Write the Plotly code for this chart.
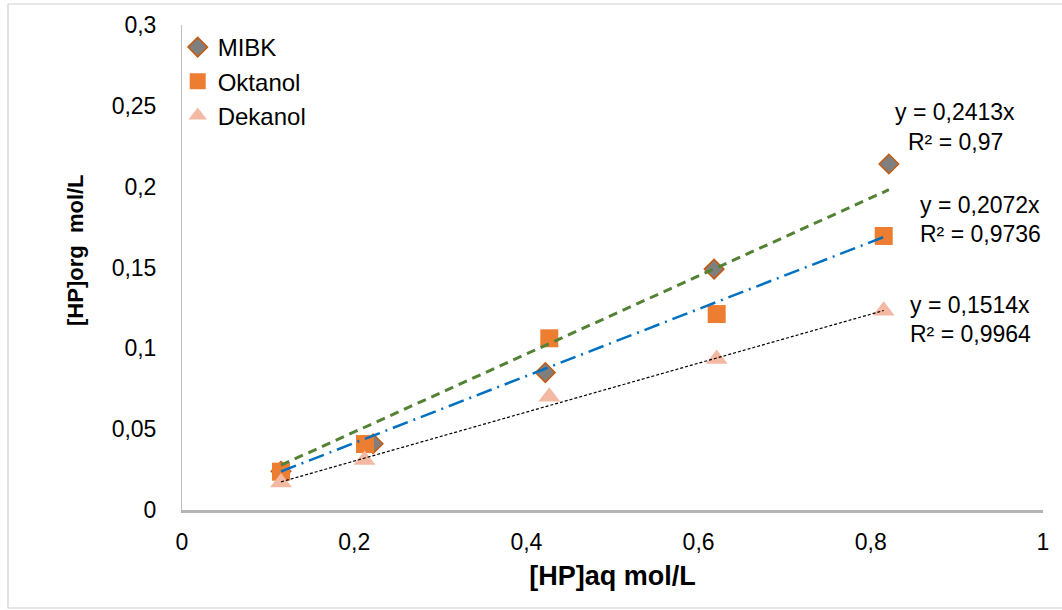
import plotly.graph_objects as go

# Measured distribution data: [HP] in aqueous vs organic phase (mol/L)
mibk_x = [0.115, 0.222, 0.422, 0.618, 0.821]
mibk_y = [0.024, 0.041, 0.085, 0.149, 0.214]

oktanol_x = [0.115, 0.2125, 0.4266, 0.621, 0.815]
oktanol_y = [0.0237, 0.0408, 0.1062, 0.1212, 0.1695]

dekanol_x = [0.115, 0.212, 0.4266, 0.621, 0.815]
dekanol_y = [0.017, 0.031, 0.0701, 0.0934, 0.1233]

# Linear fits through the origin
slopes = {"MIBK": 0.2413, "Oktanol": 0.2072, "Dekanol": 0.1514}
r2 = {"MIBK": "0,97", "Oktanol": "0,9736", "Dekanol": "0,9964"}

x_ticks = [0, 0.2, 0.4, 0.6, 0.8, 1]
x_tick_text = ["0", "0,2", "0,4", "0,6", "0,8", "1"]
y_ticks = [0, 0.05, 0.1, 0.15, 0.2, 0.25, 0.3]
y_tick_text = ["0", "0,05", "0,1", "0,15", "0,2", "0,25", "0,3"]

FONT = "Liberation Sans, Arial, sans-serif"
FS = 23

fig = go.Figure()

series = {
    "MIBK": (mibk_x, mibk_y),
    "Oktanol": (oktanol_x, oktanol_y),
    "Dekanol": (dekanol_x, dekanol_y),
}
markers = {
    "MIBK": dict(symbol="diamond", size=15, color="#7F7F7F",
                 line=dict(width=1.5, color="#C55A11")),
    "Oktanol": dict(symbol="square", size=18, color="#ED7D31",
                    line=dict(width=0)),
    "Dekanol": dict(symbol="triangle-up", size=19, color="#F4B9A3",
                    line=dict(width=0)),
}
for name, (xs, ys) in series.items():
    fig.add_trace(go.Scatter(x=xs, y=ys, mode="markers", name=name,
                             marker=markers[name]))

# Trend lines through the origin, drawn over the markers
trend_styles = {
    "MIBK": dict(color="#548235", width=3, dash="9px,6px"),
    "Oktanol": dict(color="#0070C0", width=2.5, dash="16px,6px,2px,6px"),
    "Dekanol": dict(color="#000000", width=1.2, dash="3px,2px"),
}
for name, (xs, ys) in series.items():
    x0, x1 = min(xs), max(xs)
    k = slopes[name]
    fig.add_trace(go.Scatter(
        x=[x0, x1], y=[k * x0, k * x1], mode="lines",
        line=trend_styles[name], showlegend=False, hoverinfo="skip",
    ))

L, T, PW, PH = 182, 25, 861, 485


def px_to_paper(px, py):
    return (px - L) / PW, (T + PH - py) / PH


# Equation labels next to each fit line
labels = [
    ("MIBK", 955, 112, 142),
    ("Oktanol", 980, 205, 234),
    ("Dekanol", 970, 305, 334),
]
for name, px, py1, py2 in labels:
    for py, txt in ((py1, f"y = {str(slopes[name]).replace('.', ',')}x"),
                    (py2, f"R² = {r2[name]}")):
        xp, yp = px_to_paper(px, py)
        fig.add_annotation(
            x=xp, y=yp, xref="paper", yref="paper", showarrow=False,
            xanchor="center", yanchor="middle", text=txt,
            font=dict(family=FONT, size=FS, color="#000"),
        )

# Y-axis title
xp, yp = px_to_paper(75, 250)
fig.add_annotation(
    x=xp, y=yp, xref="paper", yref="paper", showarrow=False,
    xanchor="center", yanchor="middle", textangle=-90,
    text="<b>[HP]org  mol/L</b>",
    font=dict(family=FONT, size=22, color="#000"),
)

# Chart-area frame
x0p, y0p = px_to_paper(8, 608)
x1p, y1p = px_to_paper(1070, 4)
fig.add_shape(type="rect", xref="paper", yref="paper",
              x0=x0p, y0=y0p, x1=x1p, y1=y1p,
              line=dict(color="#D0D0D0", width=1.2), layer="below")

fig.update_layout(
    width=1062, height=610,
    margin=dict(l=L, r=1062 - L - PW, t=T, b=610 - T - PH),
    paper_bgcolor="white", plot_bgcolor="white",
    font=dict(family=FONT, size=FS, color="#000"),
    legend=dict(
        x=-0.005, y=1.0, xanchor="left", yanchor="top",
        bgcolor="rgba(0,0,0,0)",
        font=dict(family=FONT, size=24), itemwidth=30,
        tracegroupgap=0,
    ),
    showlegend=True,
)
fig.update_xaxes(
    range=[0, 1], tickvals=x_ticks, ticktext=x_tick_text,
    showgrid=False, zeroline=False, showline=True,
    linecolor="#B4B4B4", linewidth=2.5,
    ticks="outside", ticklen=10, tickcolor="rgba(0,0,0,0)",
    title=dict(text="<b>[HP]aq mol/L</b>", standoff=12,
               font=dict(family=FONT, size=27)),
)
fig.update_yaxes(
    range=[0, 0.3], tickvals=y_ticks, ticktext=y_tick_text,
    showgrid=False, zeroline=False, showline=True,
    linecolor="#BFBFBF", linewidth=1,
    ticks="outside", ticklen=20, tickcolor="rgba(0,0,0,0)",
)

fig.write_html("out.html")
